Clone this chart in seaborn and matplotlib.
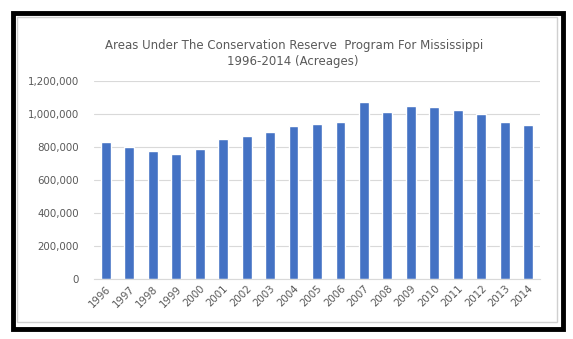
import matplotlib
matplotlib.use("Agg")
import matplotlib.pyplot as plt
import seaborn as sns
import pandas as pd
from matplotlib.patches import Rectangle
from matplotlib.ticker import FuncFormatter

years = [str(y) for y in range(1996, 2015)]
acres = [831000, 797000, 777000, 757000, 789000, 850000, 866000, 888000,
         928000, 940000, 952000, 1073000, 1013000, 1047000, 1043000,
         1023000, 1001000, 952000, 932000]

df = pd.DataFrame({"year": years, "acres": acres})

sns.set_style("white")
plt.rcParams['font.family'] = ['DejaVu Sans']

fig = plt.figure(figsize=(5.73, 3.39), dpi=100)
ax = fig.add_axes([94 / 573, 1 - 279.3 / 339, (540 - 94) / 573, (279.3 - 80.7) / 339])

sns.barplot(data=df, x="year", y="acres", color="#4472C4", width=0.42,
            saturation=1, ax=ax)

ax.set_ylim(0, 1200000)
ax.set_yticks(range(0, 1200001, 200000))
ax.yaxis.set_major_formatter(FuncFormatter(lambda v, p: f"{int(v):,}"))
ax.grid(axis="y", color="#D9D9D9", linewidth=0.8)
ax.set_axisbelow(True)
for s in ["top", "right", "left"]:
    ax.spines[s].set_visible(False)
ax.spines["bottom"].set_color("#D9D9D9")
ax.set_xlabel("")
ax.set_ylabel("")
ax.tick_params(axis="both", length=0, labelsize=7.4, colors="#595959", pad=11)
plt.setp(ax.get_xticklabels(), rotation=45, ha="right", rotation_mode="anchor")
ax.tick_params(axis="x", pad=3)

fig.text(294 / 573, 1 - 45 / 339, "Areas Under The Conservation Reserve  Program For Mississippi",
         ha="center", va="center", fontsize=8.5, color="#595959")
fig.text(293 / 573, 1 - 62 / 339, "1996-2014 (Acreages)",
         ha="center", va="center", fontsize=8.5, color="#595959")

# inner chart frame and outer black frame
fig.patches.append(Rectangle((17 / 573, 1 - 322 / 339), (557 - 17) / 573, (322 - 17) / 339,
                             transform=fig.transFigure, fill=False,
                             edgecolor="#D0D0D0", linewidth=1))
fig.patches.append(Rectangle((12.5 / 573, 1 - 328.5 / 339), (562.5 - 12.5) / 573, (328.5 - 12.5) / 339,
                             transform=fig.transFigure, fill=False,
                             edgecolor="black", linewidth=3.5))

fig.savefig("out.png", dpi=100)
